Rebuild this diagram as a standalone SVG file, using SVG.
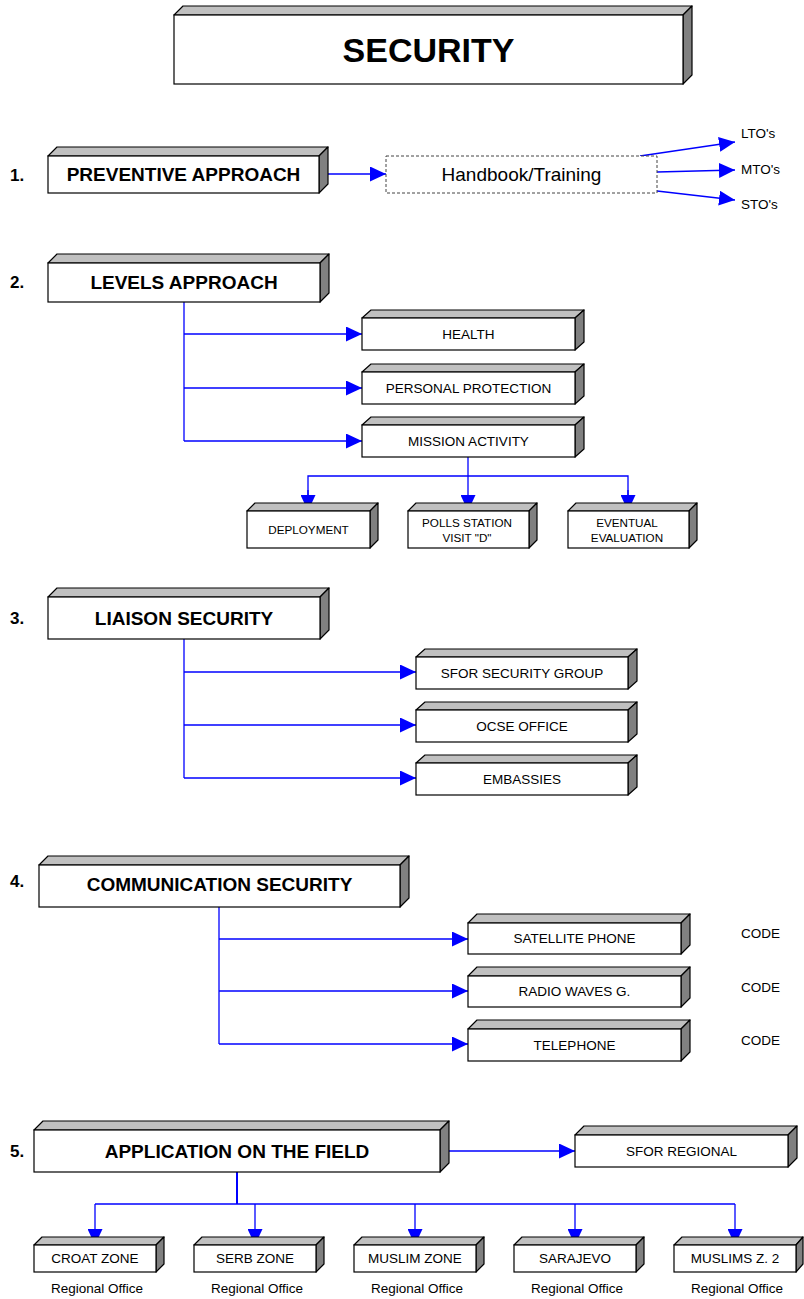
<svg xmlns="http://www.w3.org/2000/svg" width="804" height="1299" viewBox="0 0 804 1299">
<defs>
<style>
.fr{fill:#fff;stroke:#000;stroke-width:1.2}
.tp{fill:#c0c0c0;stroke:#000;stroke-width:1.2;stroke-linejoin:round}
.sd{fill:#808080;stroke:#000;stroke-width:1.2;stroke-linejoin:round}
.dash{fill:#fff;stroke:#444;stroke-width:1;stroke-dasharray:3,2}
text{font-family:"Liberation Sans",Arial,sans-serif;fill:#000}
.h{font-size:19px;font-weight:bold;text-anchor:middle}
.n{font-size:17px;font-weight:bold}
.l{font-size:13.5px;text-anchor:middle}
.s{font-size:11.7px;text-anchor:middle}
.c{fill:none;stroke:#0000ff;stroke-width:1.3}
</style>
<marker id="ah" markerUnits="userSpaceOnUse" markerWidth="16" markerHeight="15" refX="16" refY="7.5" orient="auto" viewBox="0 0 16 15">
<path d="M0,0 L16,7.5 L0,15 z" fill="#0000ff"/>
</marker>
</defs>
<rect width="804" height="1299" fill="#fff"/>

<g id="connectors">
<line class="c" x1="319" y1="174" x2="386" y2="174" marker-end="url(#ah)"/>
<line class="c" x1="640" y1="156" x2="735" y2="142" marker-end="url(#ah)"/>
<line class="c" x1="657" y1="172" x2="735" y2="170" marker-end="url(#ah)"/>
<line class="c" x1="657" y1="191" x2="735" y2="200" marker-end="url(#ah)"/>

<line class="c" x1="184" y1="302" x2="184" y2="441"/>
<line class="c" x1="184" y1="334" x2="362" y2="334" marker-end="url(#ah)"/>
<line class="c" x1="184" y1="388" x2="362" y2="388" marker-end="url(#ah)"/>
<line class="c" x1="184" y1="441" x2="362" y2="441" marker-end="url(#ah)"/>

<line class="c" x1="468" y1="457" x2="468" y2="511" marker-end="url(#ah)"/>
<polyline class="c" points="308,497 308,476 628,476 628,497"/>
<line class="c" x1="308" y1="490" x2="308" y2="511" marker-end="url(#ah)"/>
<line class="c" x1="628" y1="490" x2="628" y2="511" marker-end="url(#ah)"/>

<line class="c" x1="184" y1="639" x2="184" y2="778"/>
<line class="c" x1="184" y1="672" x2="416" y2="672" marker-end="url(#ah)"/>
<line class="c" x1="184" y1="725" x2="416" y2="725" marker-end="url(#ah)"/>
<line class="c" x1="184" y1="778" x2="416" y2="778" marker-end="url(#ah)"/>

<line class="c" x1="219" y1="907" x2="219" y2="1044"/>
<line class="c" x1="219" y1="939" x2="468" y2="939" marker-end="url(#ah)"/>
<line class="c" x1="219" y1="991" x2="468" y2="991" marker-end="url(#ah)"/>
<line class="c" x1="219" y1="1044" x2="468" y2="1044" marker-end="url(#ah)"/>

<line class="c" x1="440" y1="1151" x2="575" y2="1151" marker-end="url(#ah)"/>
<line class="c" x1="237" y1="1172" x2="237" y2="1204" style="stroke-width:2"/>
<line class="c" x1="95" y1="1204" x2="735" y2="1204"/>
<line class="c" x1="95" y1="1204" x2="95" y2="1245" marker-end="url(#ah)"/>
<line class="c" x1="255" y1="1204" x2="255" y2="1245" marker-end="url(#ah)"/>
<line class="c" x1="415" y1="1204" x2="415" y2="1245" marker-end="url(#ah)"/>
<line class="c" x1="575" y1="1204" x2="575" y2="1245" marker-end="url(#ah)"/>
<line class="c" x1="735" y1="1204" x2="735" y2="1245" marker-end="url(#ah)"/>
</g>

<g id="security">
<polygon class="tp" points="174,15 183,6 692,6 683,15"/>
<polygon class="sd" points="683,15 692,6 692,75 683,84"/>
<rect class="fr" x="174" y="15" width="509" height="69"/>
<text x="428.5" y="62" style="font-size:34px;font-weight:bold;text-anchor:middle">SECURITY</text>
</g>

<text class="n" x="10" y="181">1.</text>
<g id="preventive">
<polygon class="tp" points="48,156 57,147 328,147 319,156"/>
<polygon class="sd" points="319,156 328,147 328,184 319,193"/>
<rect class="fr" x="48" y="156" width="271" height="37"/>
<text class="h" x="183.5" y="181">PREVENTIVE APPROACH</text>
</g>
<g id="handbook">
<rect class="dash" x="386" y="156" width="271" height="37"/>
<text x="521.5" y="181" style="font-size:19px;text-anchor:middle">Handbook/Training</text>
</g>
<g id="lto"><text x="741" y="138" style="font-size:13.5px">LTO's</text></g>
<g id="mto"><text x="741" y="174" style="font-size:13.5px">MTO's</text></g>
<g id="sto"><text x="741" y="209" style="font-size:13.5px">STO's</text></g>

<text class="n" x="10" y="288">2.</text>
<g id="levels">
<polygon class="tp" points="48,263 57,254 329,254 320,263"/>
<polygon class="sd" points="320,263 329,254 329,293 320,302"/>
<rect class="fr" x="48" y="263" width="272" height="39"/>
<text class="h" x="184" y="289">LEVELS APPROACH</text>
</g>
<g id="health">
<polygon class="tp" points="362,318 371,310 584,310 575,318"/>
<polygon class="sd" points="575,318 584,310 584,342 575,350"/>
<rect class="fr" x="362" y="318" width="213" height="32"/>
<text class="l" x="468.5" y="339">HEALTH</text>
</g>
<g id="personal">
<polygon class="tp" points="362,372 371,364 584,364 575,372"/>
<polygon class="sd" points="575,372 584,364 584,396 575,404"/>
<rect class="fr" x="362" y="372" width="213" height="32"/>
<text class="l" x="468.5" y="393">PERSONAL PROTECTION</text>
</g>
<g id="mission">
<polygon class="tp" points="362,425 371,417 584,417 575,425"/>
<polygon class="sd" points="575,425 584,417 584,449 575,457"/>
<rect class="fr" x="362" y="425" width="213" height="32"/>
<text class="l" x="468.5" y="446">MISSION ACTIVITY</text>
</g>
<g id="deployment">
<polygon class="tp" points="247,511 255,503 378,503 370,511"/>
<polygon class="sd" points="370,511 378,503 378,540 370,548"/>
<rect class="fr" x="247" y="511" width="123" height="37"/>
<text class="s" x="308.5" y="534">DEPLOYMENT</text>
</g>
<g id="polls">
<polygon class="tp" points="408,511 416,503 537,503 529,511"/>
<polygon class="sd" points="529,511 537,503 537,540 529,548"/>
<rect class="fr" x="408" y="511" width="121" height="37"/>
<text class="s" x="467" y="527">POLLS STATION</text>
<text class="s" x="467" y="542">VISIT "D"</text>
</g>
<g id="eventual">
<polygon class="tp" points="568,511 576,503 697,503 689,511"/>
<polygon class="sd" points="689,511 697,503 697,540 689,548"/>
<rect class="fr" x="568" y="511" width="121" height="37"/>
<text class="s" x="627" y="527">EVENTUAL</text>
<text class="s" x="627" y="542">EVALUATION</text>
</g>

<text class="n" x="10" y="624">3.</text>
<g id="liaison">
<polygon class="tp" points="48,597 57,588 329,588 320,597"/>
<polygon class="sd" points="320,597 329,588 329,630 320,639"/>
<rect class="fr" x="48" y="597" width="272" height="42"/>
<text class="h" x="184" y="625">LIAISON SECURITY</text>
</g>
<g id="sfor-group">
<polygon class="tp" points="416,657 425,649 637,649 628,657"/>
<polygon class="sd" points="628,657 637,649 637,681 628,689"/>
<rect class="fr" x="416" y="657" width="212" height="32"/>
<text class="l" x="522" y="678">SFOR SECURITY GROUP</text>
</g>
<g id="ocse">
<polygon class="tp" points="416,710 425,702 637,702 628,710"/>
<polygon class="sd" points="628,710 637,702 637,734 628,742"/>
<rect class="fr" x="416" y="710" width="212" height="32"/>
<text class="l" x="522" y="731">OCSE OFFICE</text>
</g>
<g id="embassies">
<polygon class="tp" points="416,763 425,755 637,755 628,763"/>
<polygon class="sd" points="628,763 637,755 637,787 628,795"/>
<rect class="fr" x="416" y="763" width="212" height="32"/>
<text class="l" x="522" y="784">EMBASSIES</text>
</g>

<text class="n" x="10" y="887">4.</text>
<g id="communication">
<polygon class="tp" points="39,865 48,856 409,856 400,865"/>
<polygon class="sd" points="400,865 409,856 409,898 400,907"/>
<rect class="fr" x="39" y="865" width="361" height="42"/>
<text class="h" x="219.5" y="891">COMMUNICATION SECURITY</text>
</g>
<g id="satellite">
<polygon class="tp" points="468,923 477,914 690,914 681,923"/>
<polygon class="sd" points="681,923 690,914 690,945 681,954"/>
<rect class="fr" x="468" y="923" width="213" height="31"/>
<text class="l" x="574.5" y="943">SATELLITE PHONE</text>
</g>
<g id="radio">
<polygon class="tp" points="468,976 477,967 690,967 681,976"/>
<polygon class="sd" points="681,976 690,967 690,998 681,1007"/>
<rect class="fr" x="468" y="976" width="213" height="31"/>
<text class="l" x="574.5" y="996">RADIO WAVES G.</text>
</g>
<g id="telephone">
<polygon class="tp" points="468,1029 477,1020 690,1020 681,1029"/>
<polygon class="sd" points="681,1029 690,1020 690,1052 681,1061"/>
<rect class="fr" x="468" y="1029" width="213" height="32"/>
<text class="l" x="574.5" y="1050">TELEPHONE</text>
</g>
<g id="code1"><text x="741" y="938" style="font-size:13.5px">CODE</text></g>
<g id="code2"><text x="741" y="992" style="font-size:13.5px">CODE</text></g>
<g id="code3"><text x="741" y="1045" style="font-size:13.5px">CODE</text></g>

<text class="n" x="10" y="1157">5.</text>
<g id="application">
<polygon class="tp" points="34,1130 43,1121 449,1121 440,1130"/>
<polygon class="sd" points="440,1130 449,1121 449,1163 440,1172"/>
<rect class="fr" x="34" y="1130" width="406" height="42"/>
<text class="h" x="237" y="1158">APPLICATION ON THE FIELD</text>
</g>
<g id="sfor-regional">
<polygon class="tp" points="575,1135 584,1126 797,1126 788,1135"/>
<polygon class="sd" points="788,1135 797,1126 797,1158 788,1167"/>
<rect class="fr" x="575" y="1135" width="213" height="32"/>
<text class="l" x="681.5" y="1156">SFOR REGIONAL</text>
</g>
<g id="croat">
<polygon class="tp" points="34,1245 42,1237 164,1237 156,1245"/>
<polygon class="sd" points="156,1245 164,1237 164,1264 156,1272"/>
<rect class="fr" x="34" y="1245" width="122" height="27"/>
<text class="l" x="95" y="1263">CROAT ZONE</text>
<text class="l" x="97" y="1293">Regional Office</text>
</g>
<g id="serb">
<polygon class="tp" points="194,1245 202,1237 324,1237 316,1245"/>
<polygon class="sd" points="316,1245 324,1237 324,1264 316,1272"/>
<rect class="fr" x="194" y="1245" width="122" height="27"/>
<text class="l" x="255" y="1263">SERB ZONE</text>
<text class="l" x="257" y="1293">Regional Office</text>
</g>
<g id="muslim">
<polygon class="tp" points="354,1245 362,1237 484,1237 476,1245"/>
<polygon class="sd" points="476,1245 484,1237 484,1264 476,1272"/>
<rect class="fr" x="354" y="1245" width="122" height="27"/>
<text class="l" x="415" y="1263">MUSLIM ZONE</text>
<text class="l" x="417" y="1293">Regional Office</text>
</g>
<g id="sarajevo">
<polygon class="tp" points="514,1245 522,1237 644,1237 636,1245"/>
<polygon class="sd" points="636,1245 644,1237 644,1264 636,1272"/>
<rect class="fr" x="514" y="1245" width="122" height="27"/>
<text class="l" x="575" y="1263">SARAJEVO</text>
<text class="l" x="577" y="1293">Regional Office</text>
</g>
<g id="muslims2">
<polygon class="tp" points="674,1245 682,1237 803,1237 796,1245"/>
<polygon class="sd" points="796,1245 803,1237 803,1264 796,1272"/>
<rect class="fr" x="674" y="1245" width="122" height="27"/>
<text class="l" x="735" y="1263">MUSLIMS Z. 2</text>
<text class="l" x="737" y="1293">Regional Office</text>
</g>
</svg>
